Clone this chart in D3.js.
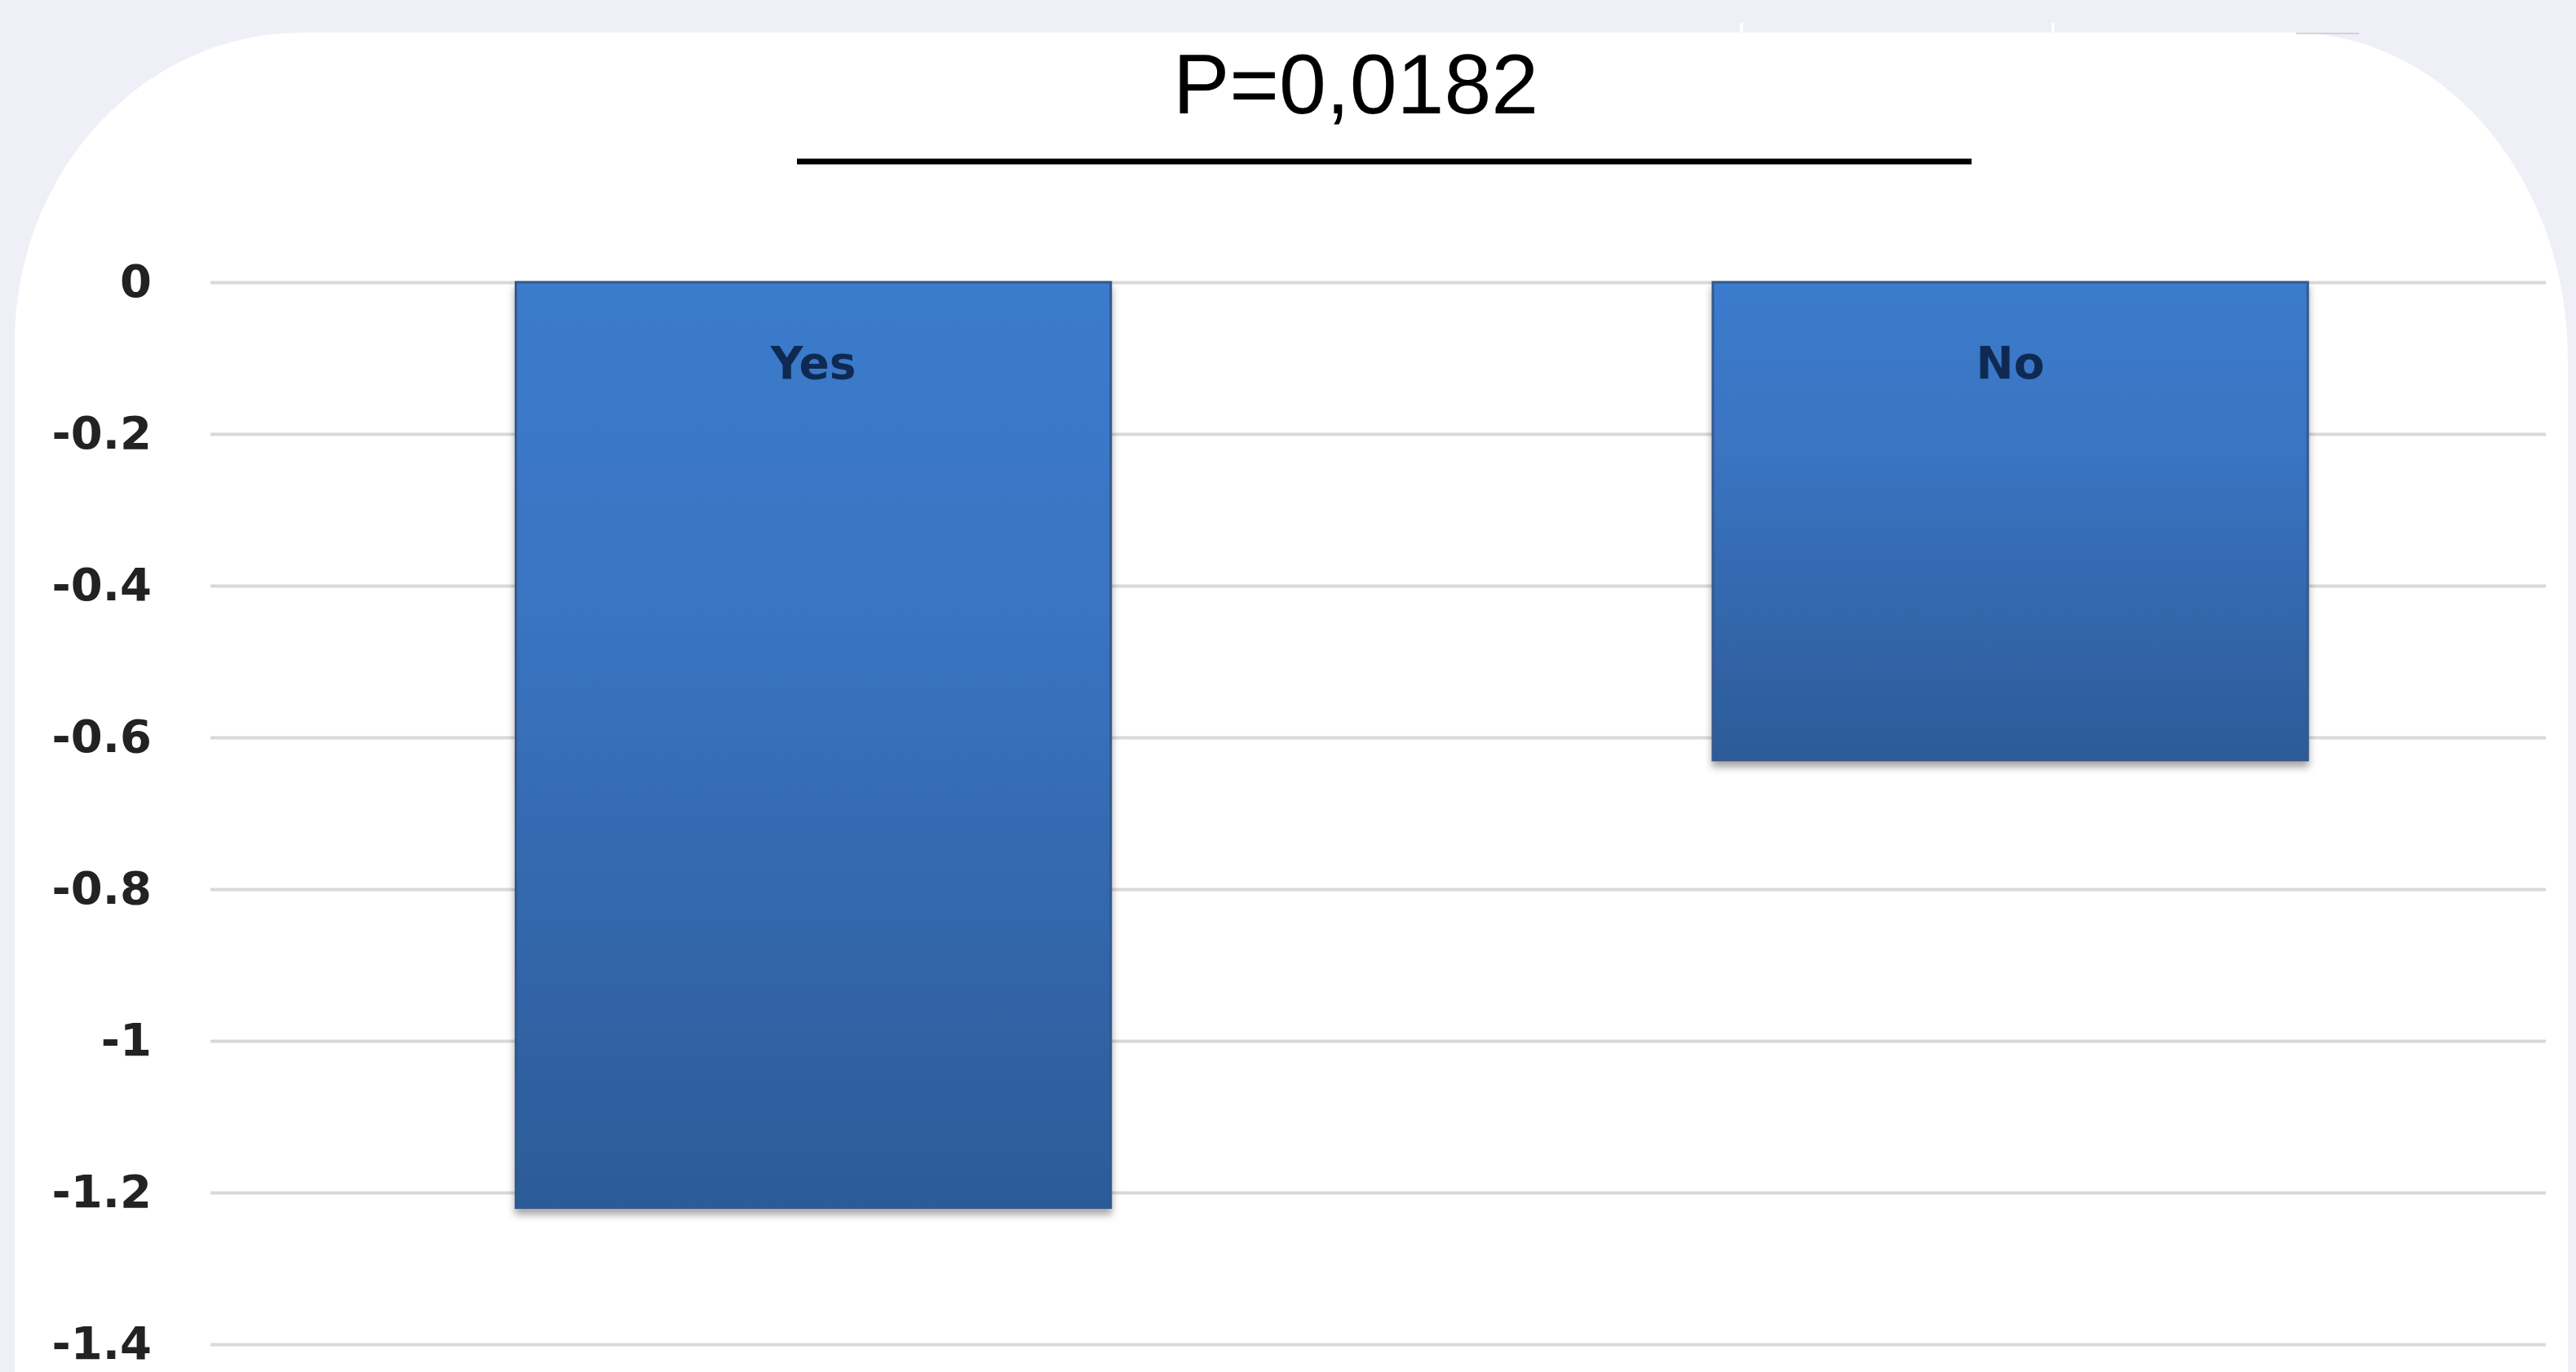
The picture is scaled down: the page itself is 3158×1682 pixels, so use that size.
<!DOCTYPE html>
<html>
<head>
<meta charset="utf-8">
<script src="https://cdn.jsdelivr.net/npm/d3@7"></script>
<style>
  html, body { margin: 0; padding: 0; background: #efeff8; }
  svg { display: block; }
</style>
</head>
<body>
<div id="chart"></div>
<script>
// chart values
var categories = ["Yes", "No"];
var values = [-1.22, -0.63];
var yTicks = [0, -0.2, -0.4, -0.6, -0.8, -1, -1.2, -1.4];
var yTickLabels = ["0", "-0.2", "-0.4", "-0.6", "-0.8", "-1", "-1.2", "-1.4"];
var pValueText = "P=0,0182";

// #####################################################
// Draw the chart
//
function draw_chart (div_id) {
  var width = 3158,
      height = 1682;
  var plot = {left: 258, right: 3121, top: 346, bottom: 1648};

  var svg = d3.select(div_id).append("svg")
      .attr("width", width)
      .attr("height", height);

  var defs = svg.append("defs");

  // bar gradient, top lighter blue to darker at the bottom
  var grad = defs.append("linearGradient")
      .attr("id", "barFill")
      .attr("x1", 0).attr("y1", 0).attr("x2", 0).attr("y2", 1);
  grad.append("stop").attr("offset", "0%").attr("stop-color", "#3b7bcc");
  grad.append("stop").attr("offset", "35%").attr("stop-color", "#3a74c2");
  grad.append("stop").attr("offset", "100%").attr("stop-color", "#2c5b98");

  var shadow = defs.append("filter")
      .attr("id", "barShadow")
      .attr("x", "-5%").attr("y", "-5%")
      .attr("width", "110%").attr("height", "115%");
  shadow.append("feDropShadow")
      .attr("dx", 0).attr("dy", 7)
      .attr("stdDeviation", 5)
      .attr("flood-color", "#000")
      .attr("flood-opacity", 0.35);

  // white panel with the big rounded corners
  svg.append("path")
      .attr("d", "M18,1700 L18,420 A352,380 0 0 1 370,40 L2810,40 " +
                 "A338,400 0 0 1 3148,440 L3148,1700 Z")
      .style("fill", "#ffffff");

  // small scratches along the top edge
  svg.append("rect").attr("x", 2133).attr("y", 28).attr("width", 4).attr("height", 14).style("fill", "#fff");
  svg.append("rect").attr("x", 2515).attr("y", 28).attr("width", 4).attr("height", 14).style("fill", "#fff");
  svg.append("line")
      .attr("x1", 2815).attr("x2", 2892).attr("y1", 41).attr("y2", 41)
      .style("stroke", "#c8c8cc").style("stroke-width", 1.5);

  // scales
  var x = d3.scaleBand()
      .domain(categories)
      .range([plot.left, plot.right])
      .paddingInner(0.503)
      .paddingOuter(0.227)
      .align(0.562);

  var y = d3.scaleLinear()
      .domain([0, -1.4])
      .range([plot.top, plot.bottom]);

  // y axis with grid lines
  var yAxis = svg.append("g")
      .attr("transform", "translate(" + plot.left + ",0)")
      .call(d3.axisLeft(y)
        .tickValues(yTicks)
        .tickFormat(function (d, i) { return yTickLabels[i]; })
        .tickSize(-(plot.right - plot.left))
        .tickPadding(72));

  yAxis.select(".domain").remove();
  yAxis.selectAll(".tick line")
      .style("stroke", "#d9d9d9")
      .style("stroke-width", 4);
  yAxis.selectAll(".tick text")
      .style("font-family", "'DejaVu Sans', sans-serif")
      .style("font-weight", "bold")
      .style("font-size", "56px")
      .style("fill", "#222222");

  // bars
  svg.selectAll(".bar")
      .data(values)
    .enter().append("rect")
      .attr("class", "bar")
      .attr("x", function (d, i) { return x(categories[i]); })
      .attr("y", function (d) { return y(0); })
      .attr("width", x.bandwidth())
      .attr("height", function (d) { return y(d) - y(0); })
      .style("fill", "url(#barFill)")
      .style("stroke", "#34598c")
      .style("stroke-width", 3)
      .attr("filter", "url(#barShadow)");

  // category names inside the bars
  svg.selectAll(".barLabel")
      .data(categories)
    .enter().append("text")
      .attr("class", "barLabel")
      .attr("x", function (d) { return x(d) + x.bandwidth() / 2; })
      .attr("y", y(0) + 118)
      .attr("text-anchor", "middle")
      .style("font-family", "'DejaVu Sans', sans-serif")
      .style("font-weight", "bold")
      .style("font-size", "55px")
      .style("fill", "#0f2a52")
      .text(function (d) { return d; });

  // p value and bracket line
  svg.append("text")
      .attr("x", 1662)
      .attr("y", 139)
      .attr("text-anchor", "middle")
      .style("font-family", "'Liberation Sans', Arial, sans-serif")
      .style("font-size", "104px")
      .style("fill", "#000")
      .text(pValueText);

  svg.append("line")
      .attr("x1", 977).attr("x2", 2417)
      .attr("y1", 198).attr("y2", 198)
      .style("stroke", "#000")
      .style("stroke-width", 7);
};

draw_chart("#chart");
</script>
</body>
</html>
